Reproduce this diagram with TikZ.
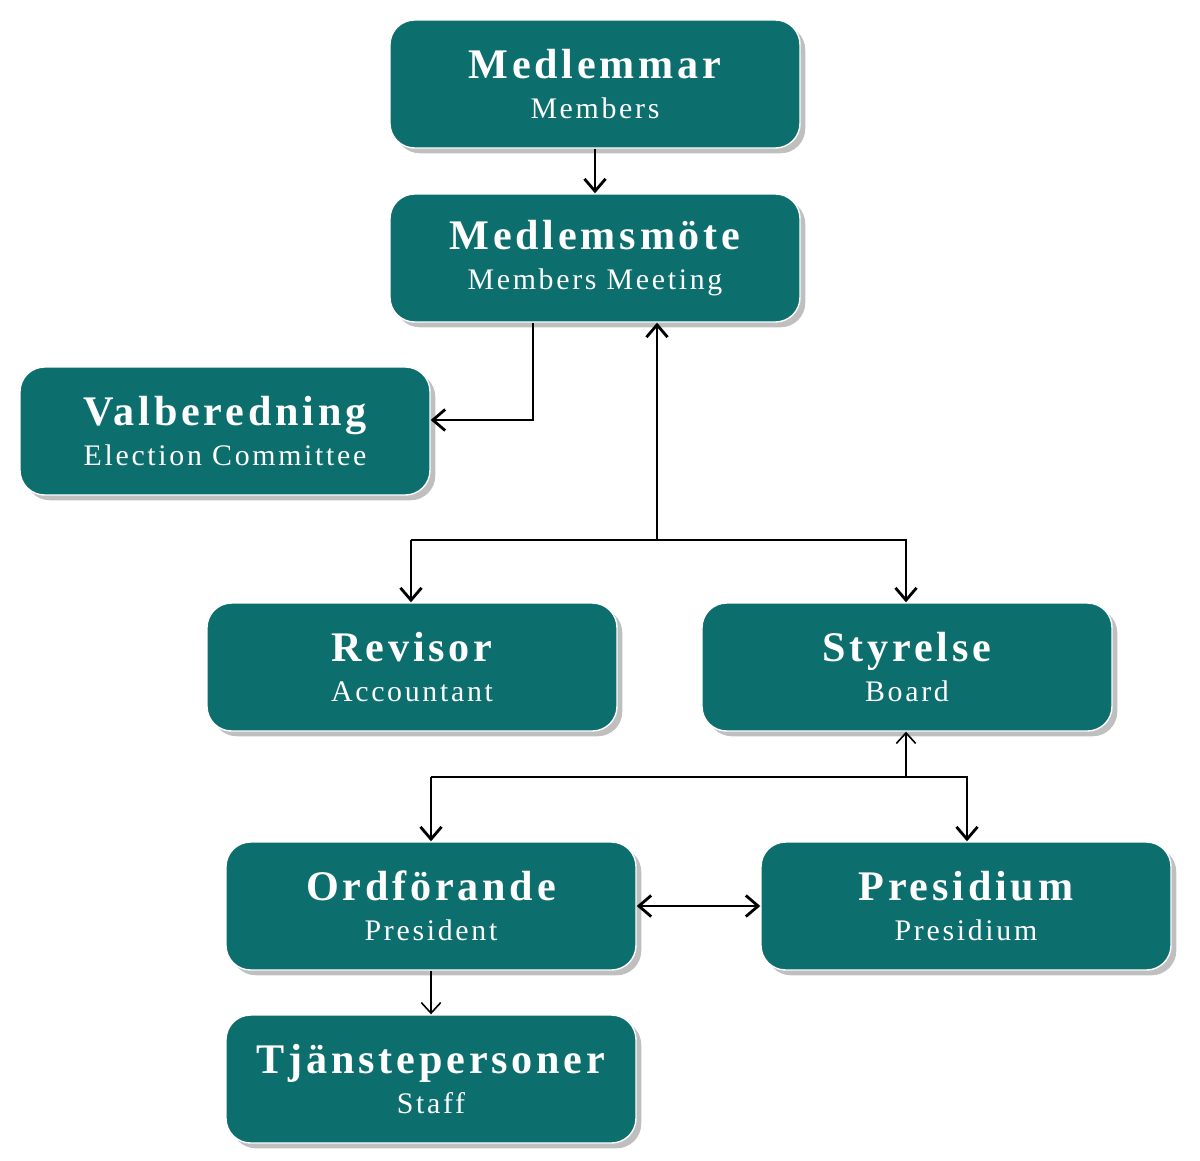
\documentclass[tikz,border=0pt]{standalone}
\usepackage{fontspec}
\setmainfont{Liberation Serif}
\newfontfamily\tfont[LetterSpace=9]{Liberation Serif}
\usetikzlibrary{arrows.meta,shadows}
\definecolor{teal1}{HTML}{0D6E6E}
\tikzset{
 orgbox/.style={fill=teal1,rounded corners=14pt,minimum width=410*0.02cm,minimum height=128*0.02cm,
  draw=white,line width=0.8pt,text=white,align=center,inner sep=0pt,
  font=\tfont\fontsize{17}{23}\selectfont,
  drop shadow={shadow xshift=3pt,shadow yshift=-3pt,fill=black!50,opacity=0.5}},
 barb/.tip={Straight Barb[length=7pt,width=12pt]},
 conn/.style={line width=1.6pt,-barb},
 thin/.style={line width=0.9pt,-{Straight Barb[length=6pt,width=11pt]}}
}
\newcommand{\bx}[2]{{\fontsize{24}{23}\selectfont\bfseries #1}\\{#2}}
\begin{document}
\begin{tikzpicture}[x=0.02cm,y=-0.02cm]
\useasboundingbox (0,0) rectangle (1200,1160);
\node[orgbox] (m) at (595,84) {\bx{Medlemmar}{Members}};
\node[orgbox] (mm) at (595,258) {\bx{Medlemsmöte}{Members Meeting}};
\node[orgbox] (v) at (225,431) {\bx{Valberedning}{Election Committee}};
\node[orgbox] (r) at (412,667) {\bx{Revisor}{Accountant}};
\node[orgbox] (s) at (907,667) {\bx{Styrelse}{Board}};
\node[orgbox] (o) at (431,906) {\bx{Ordförande}{President}};
\node[orgbox] (p) at (966,906) {\bx{Presidium}{Presidium}};
\node[orgbox] (t) at (431,1079) {\bx{Tjänstepersoner}{Staff}};
\coordinate (j1) at (657,540);
\coordinate (j2) at (906,777);
\coordinate (vb) at (533,420);
\draw[conn] (mm.south -| vb) -- (vb) -- (v.east |- vb);
\draw[conn] (m) -- (mm);
\draw[conn] (j1) -- (mm.south -| j1);
\draw[conn] (411,540) -- (j1) -- (906,540) -- (s.north -| 906,0);
\draw[conn] (411,540) -- (r.north -| 411,0);
\draw[thin] (j2) -- (s.south -| j2);
\draw[conn] (431,777) -- (967,777) -- (p.north -| 967,0);
\draw[conn] (431,777) -- (o.north -| 431,0);
\draw[line width=1.6pt,barb-barb] (o.east) -- (p.west);
\draw[thin] (o) -- (t);
\end{tikzpicture}
\end{document}
